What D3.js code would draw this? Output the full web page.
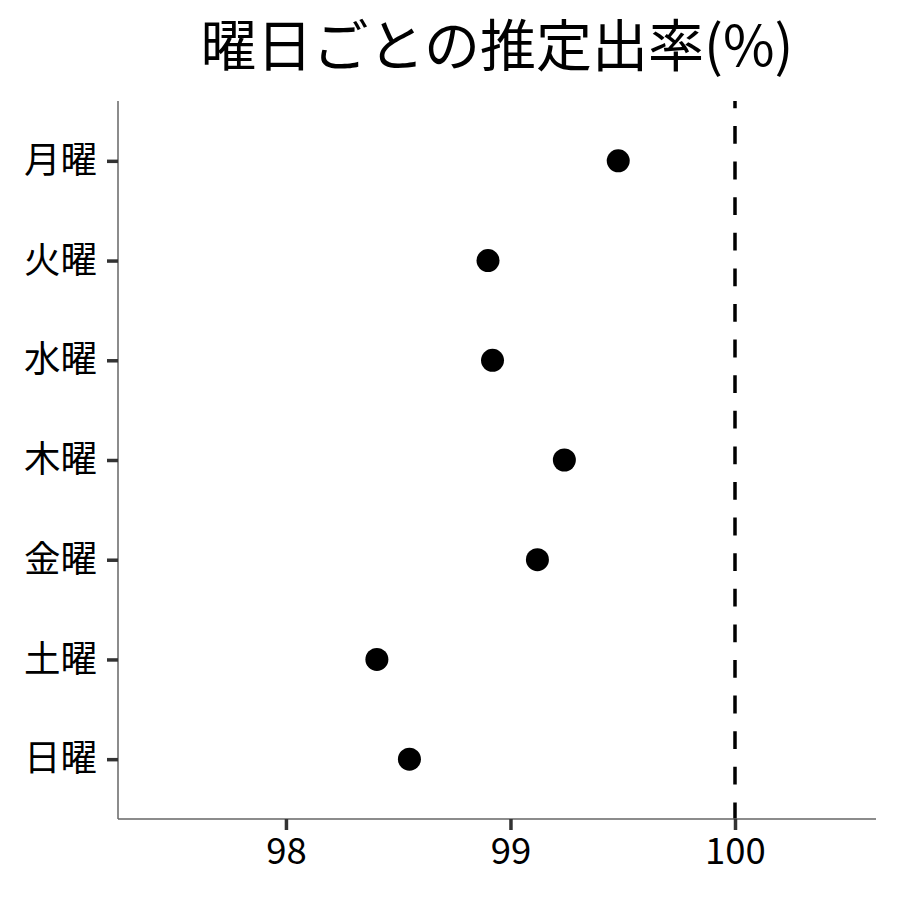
<!DOCTYPE html>
<html>
<head>
<meta charset="utf-8">
<script src="https://cdn.jsdelivr.net/npm/d3@7"></script>
<style>
  body { margin: 0; background: #fff; }
  text { font-family: "Noto Sans CJK JP", "Noto Sans", sans-serif; }
</style>
</head>
<body>
<div id="chart"></div>
<script>
const days = ['月曜', '火曜', '水曜', '木曜', '金曜', '土曜', '日曜'];
const rates = [99.48, 98.90, 98.92, 99.24, 99.12, 98.405, 98.55];
const xTicks = [98, 99, 100];
const refValue = 100;
const title = '曜日ごとの推定出率(%)';

const width = 900;
const height = 900;
const padLeft = 118, padRight = 876, padTop = 101, padBottom = 819;

const svg = d3.select('#chart')
              .append('svg')
              .attr('width', width)
              .attr('height', height);

//scales
const x = d3.scaleLinear()
            .domain([97.252, 100.628])
            .range([padLeft, padRight]);

const y = d3.scalePoint()
            .domain(days)
            .range([padTop, padBottom])
            .padding(0.6);

//reference line
svg.append('line')
   .attr('x1', x(refValue))
   .attr('x2', x(refValue))
   .attr('y1', padTop)
   .attr('y2', padBottom)
   .attr('stroke', '#000')
   .attr('stroke-width', 3.5)
   .attr('stroke-dasharray', '17.8 17.8')
   .attr('stroke-dashoffset', 10.6);

//x axis
const xAxis = svg.append('g')
                 .attr('transform', 'translate(0,' + padBottom + ')')
                 .call(d3.axisBottom(x).tickValues(xTicks).tickSize(11).tickPadding(8).tickFormat(d3.format('d')));

//y axis
const yAxis = svg.append('g')
                 .attr('transform', 'translate(' + padLeft + ',0)')
                 .call(d3.axisLeft(y).tickSize(11).tickPadding(10));

[xAxis, yAxis].forEach(g => {
  g.select('.domain')
   .attr('stroke', '#666')
   .attr('stroke-width', 1.5);
  g.selectAll('.tick line')
   .attr('stroke', '#333')
   .attr('stroke-width', 3.5);
  g.selectAll('.tick text')
   .attr('fill', '#000')
   .attr('font-size', 36.5)
   .style('font-family', '"Noto Sans CJK JP", sans-serif');
});
// domain paths without outer tick caps
xAxis.select('.domain').attr('d', 'M' + padLeft + ',0H' + padRight);
yAxis.select('.domain').attr('d', 'M0,' + padTop + 'V' + padBottom);

//points
svg.selectAll('circle')
   .data(rates)
   .enter()
   .append('circle')
   .attr('cx', d => x(d))
   .attr('cy', (d, i) => y(days[i]))
   .attr('r', 11.5)
   .attr('fill', '#000');

//title
svg.append('text')
   .text(title)
   .attr('x', (padLeft + padRight) / 2)
   .attr('y', 66)
   .attr('text-anchor', 'middle')
   .attr('font-size', 56)
   .attr('fill', '#000');
</script>
</body>
</html>
